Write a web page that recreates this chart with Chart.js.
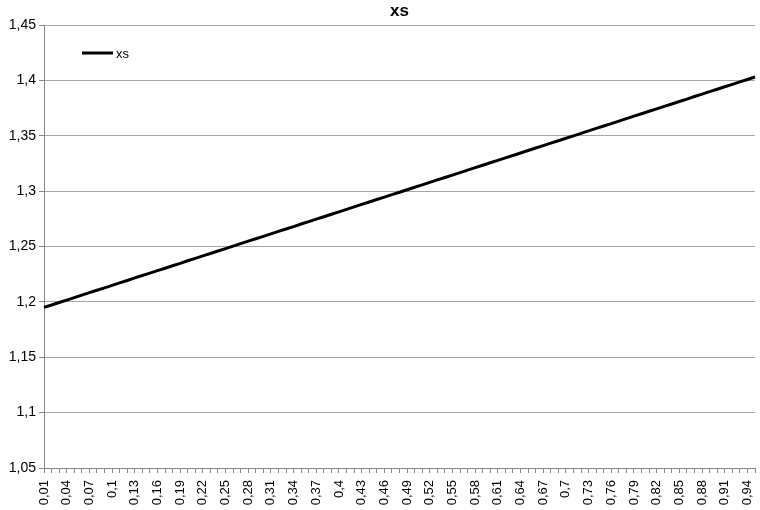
<!DOCTYPE html>
<html>
<head>
<meta charset="utf-8">
<script src="https://cdn.jsdelivr.net/npm/chart.js@4/dist/chart.umd.min.js"></script>
<style>
  html, body { margin: 0; padding: 0; background: #fff; }
  #wrap { width: 760px; height: 510px; }
</style>
</head>
<body>
<div id="wrap"><canvas id="chartXs"></canvas></div>
<script>
// categorias 0,01 .. 0,95
const xsLabels = [
  '0,01','0,02','0,03','0,04','0,05','0,06','0,07','0,08','0,09','0,1',
  '0,11','0,12','0,13','0,14','0,15','0,16','0,17','0,18','0,19','0,2',
  '0,21','0,22','0,23','0,24','0,25','0,26','0,27','0,28','0,29','0,3',
  '0,31','0,32','0,33','0,34','0,35','0,36','0,37','0,38','0,39','0,4',
  '0,41','0,42','0,43','0,44','0,45','0,46','0,47','0,48','0,49','0,5',
  '0,51','0,52','0,53','0,54','0,55','0,56','0,57','0,58','0,59','0,6',
  '0,61','0,62','0,63','0,64','0,65','0,66','0,67','0,68','0,69','0,7',
  '0,71','0,72','0,73','0,74','0,75','0,76','0,77','0,78','0,79','0,8',
  '0,81','0,82','0,83','0,84','0,85','0,86','0,87','0,88','0,89','0,9',
  '0,91','0,92','0,93','0,94','0,95'
];

const xsData = [
  1.1950,1.1972,1.1994,1.2016,1.2039,1.2061,1.2083,1.2105,1.2127,1.2149,
  1.2171,1.2193,1.2216,1.2238,1.2260,1.2282,1.2304,1.2326,1.2348,1.2371,
  1.2393,1.2415,1.2437,1.2459,1.2481,1.2503,1.2526,1.2548,1.2570,1.2592,
  1.2614,1.2636,1.2658,1.2680,1.2703,1.2725,1.2747,1.2769,1.2791,1.2813,
  1.2835,1.2858,1.2880,1.2902,1.2924,1.2946,1.2968,1.2990,1.3012,1.3035,
  1.3057,1.3079,1.3101,1.3123,1.3145,1.3167,1.3190,1.3212,1.3234,1.3256,
  1.3278,1.3300,1.3322,1.3344,1.3367,1.3389,1.3411,1.3433,1.3455,1.3477,
  1.3499,1.3522,1.3544,1.3566,1.3588,1.3610,1.3632,1.3654,1.3677,1.3699,
  1.3721,1.3743,1.3765,1.3787,1.3809,1.3831,1.3854,1.3876,1.3898,1.3920,
  1.3942,1.3964,1.3986,1.4008,1.4030
];

const yTicks = [1.05, 1.1, 1.15, 1.2, 1.25, 1.3, 1.35, 1.4, 1.45];

const fuente = 'Liberation Sans';

// ── titulo y leyenda dentro del area del grafico ──
const extras = {
  id: 'extras',
  afterDraw(chart) {
    const ctx = chart.ctx;
    const a = chart.chartArea;
    ctx.save();
    ctx.fillStyle = '#000';
    ctx.font = 'bold 17px ' + fuente;
    ctx.textAlign = 'center';
    ctx.textBaseline = 'middle';
    ctx.fillText('xs', (a.left + a.right) / 2, 11);

    ctx.strokeStyle = '#000';
    ctx.lineWidth = 3;
    ctx.beginPath();
    ctx.moveTo(82, 53);
    ctx.lineTo(113, 53);
    ctx.stroke();
    ctx.font = '13px ' + fuente;
    ctx.textAlign = 'left';
    ctx.fillText(chart.data.datasets[0].label, 116, 54);
    ctx.restore();
  }
};

new Chart(document.getElementById('chartXs').getContext('2d'), {
  type: 'line',
  data: {
    labels: xsLabels,
    datasets: [{
      label: 'xs',
      data: xsData,
      borderColor: '#000',
      borderWidth: 3,
      pointRadius: 0,
      tension: 0,
      fill: false
    }]
  },
  options: {
    responsive: true,
    maintainAspectRatio: false,
    animation: false,
    layout: { padding: { top: 25, right: 5, left: 0, bottom: 0 } },
    plugins: {
      legend: { display: false },
      title: { display: false },
      tooltip: { enabled: false }
    },
    scales: {
      x: {
        offset: false,
        grid: { drawOnChartArea: false, drawTicks: true, tickLength: 5, color: '#868686' },
        border: { color: '#868686' },
        ticks: {
          autoSkip: false,
          minRotation: 90,
          maxRotation: 90,
          padding: 7,
          color: '#000',
          font: { family: fuente, size: 13 },
          callback: function(v, i) { return i % 3 === 0 ? xsLabels[i] : ''; }
        },
        afterFit: function(s) { s.height = 42; s.paddingRight = 0; s.paddingLeft = 0; }
      },
      y: {
        min: 1.05,
        max: 1.45,
        afterBuildTicks: function(s) { s.ticks = yTicks.map(function(v) { return { value: v }; }); },
        grid: { color: '#a6a6a6', tickLength: 5, tickColor: '#868686' },
        border: { color: '#868686' },
        ticks: {
          color: '#000',
          padding: 3,
          font: { family: fuente, size: 14 },
          callback: function(v) { return String(Math.round(v * 100) / 100).replace('.', ','); }
        },
        afterFit: function(s) { s.width = 44; }
      }
    }
  },
  plugins: [extras]
});
</script>
</body>
</html>
